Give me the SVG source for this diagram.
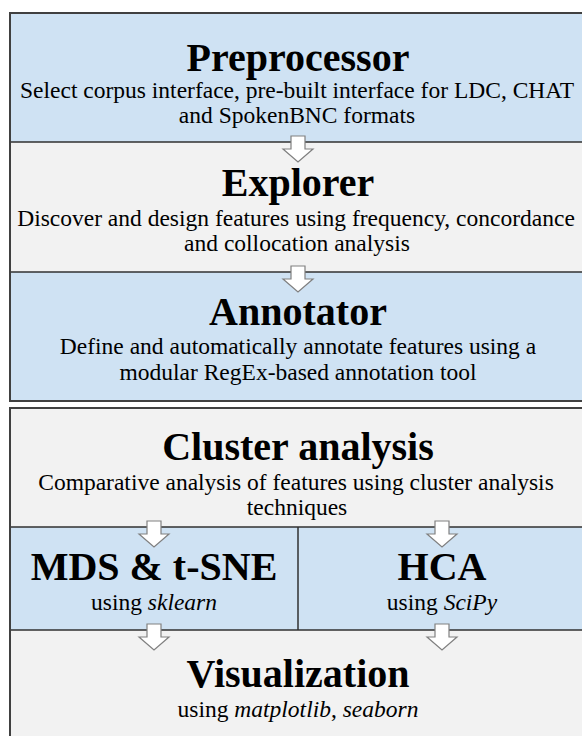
<svg xmlns="http://www.w3.org/2000/svg" width="582" height="736" viewBox="0 0 582 736">
  <style>
    .frame { stroke: #404040; stroke-width: 2; fill: none; }
    .sep { stroke: #303030; stroke-width: 1.5; fill: none; }
    .blue { fill: #cfe2f3; }
    .grey { fill: #f2f2f2; }
    text { font-family: "Liberation Serif", "Times New Roman", serif; fill: #000; text-anchor: middle; }
    .title { font-weight: bold; font-size: 40px; }
    .sub { font-size: 23.5px; }
    .arrow { fill: #ffffff; stroke: #808080; stroke-width: 1.2; stroke-linejoin: miter; }
  </style>
  <defs>
    <!-- block arrow, origin at the boundary line it crosses -->
    <path id="blockArrow" d="M -7 -6 L 7 -6 L 7 7 L 15 7 L 0 20 L -15 7 L -7 7 Z"/>
  </defs>
  <rect width="582" height="736" fill="#ffffff"/>

  <!-- upper panel: pipeline stages -->
  <g id="preprocessor">
    <rect class="blue" x="10" y="13" width="580" height="129"/>
    <text class="title" x="298" y="71">Preprocessor</text>
    <text class="sub" x="297" y="98">Select corpus interface, pre-built interface for LDC, CHAT</text>
    <text class="sub" x="297" y="123">and SpokenBNC formats</text>
  </g>
  <g id="explorer">
    <rect class="grey" x="10" y="142" width="580" height="130"/>
    <text class="title" x="298" y="196">Explorer</text>
    <text class="sub" x="296" y="226">Discover and design features using frequency, concordance</text>
    <text class="sub" x="297" y="251">and collocation analysis</text>
  </g>
  <g id="annotator">
    <rect class="blue" x="10" y="272" width="580" height="129"/>
    <text class="title" x="298" y="325">Annotator</text>
    <text class="sub" x="298" y="354">Define and automatically annotate features using a</text>
    <text class="sub" x="298" y="380">modular RegEx-based annotation tool</text>
  </g>

  <!-- lower panel: analysis -->
  <g id="cluster-analysis">
    <rect class="grey" x="10" y="408" width="580" height="119"/>
    <text class="title" x="298" y="460">Cluster analysis</text>
    <text class="sub" x="296" y="490">Comparative analysis of features using cluster analysis</text>
    <text class="sub" x="297" y="515">techniques</text>
  </g>
  <g id="mds-tsne">
    <rect class="blue" x="10" y="527" width="288" height="103"/>
    <text class="title" x="154" y="580">MDS &amp; t-SNE</text>
    <text class="sub" x="154" y="610">using <tspan font-style="italic">sklearn</tspan></text>
  </g>
  <g id="hca">
    <rect class="blue" x="298" y="527" width="292" height="103"/>
    <text class="title" x="442" y="580">HCA</text>
    <text class="sub" x="442" y="610">using <tspan font-style="italic">SciPy</tspan></text>
  </g>
  <g id="visualization">
    <rect class="grey" x="10" y="630" width="580" height="120"/>
    <text class="title" x="298" y="687">Visualization</text>
    <text class="sub" x="298" y="717">using <tspan font-style="italic">matplotlib</tspan>, <tspan font-style="italic">seaborn</tspan></text>
  </g>

  <!-- separators and panel frames -->
  <g id="frames">
    <line class="sep" x1="10" y1="142" x2="590" y2="142"/>
    <line class="sep" x1="10" y1="272" x2="590" y2="272"/>
    <line class="sep" x1="10" y1="527" x2="590" y2="527"/>
    <line class="sep" x1="10" y1="630" x2="590" y2="630"/>
    <line class="sep" x1="298" y1="527" x2="298" y2="630"/>
    <rect class="frame" x="10" y="13" width="580" height="388"/>
    <rect class="frame" x="10" y="408" width="580" height="340"/>
  </g>

  <!-- flow arrows -->
  <g id="connectors">
    <use href="#blockArrow" class="arrow" x="298" y="142"/>
    <use href="#blockArrow" class="arrow" x="298" y="272"/>
    <use href="#blockArrow" class="arrow" x="154" y="527"/>
    <use href="#blockArrow" class="arrow" x="442" y="527"/>
    <use href="#blockArrow" class="arrow" x="154" y="630"/>
    <use href="#blockArrow" class="arrow" x="442" y="630"/>
  </g>
</svg>
